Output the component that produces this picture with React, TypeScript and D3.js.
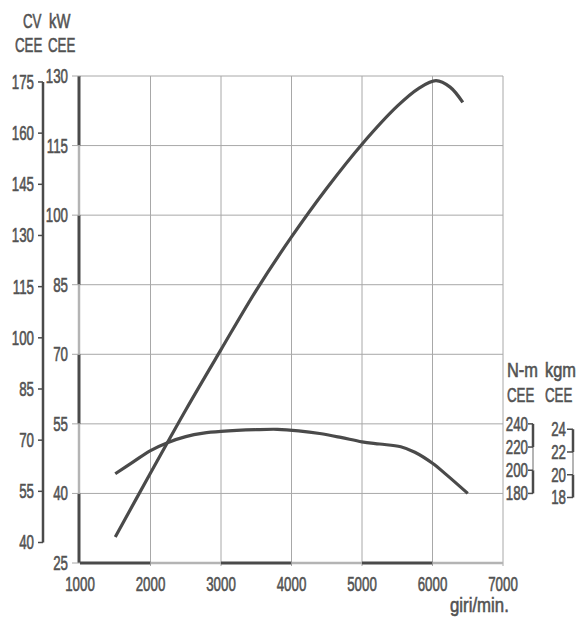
import React from "react";
import * as d3 from "d3";

// engine speed ticks (giri/min.)
const rpmTicks = [1000, 2000, 3000, 4000, 5000, 6000, 7000];
// left scales
const kwTicks = [25, 40, 55, 70, 85, 100, 115, 130];
const cvTicks = [40, 55, 70, 85, 100, 115, 130, 145, 160, 175];
// right scales
const nmTicks = [180, 200, 220, 240];
const kgmTicks = [18, 20, 22, 24];

// power curve (kW CEE)
const powerRpm = [1500, 2000, 2500, 3000, 3500, 4000, 4500, 5000, 5500, 5800, 6050, 6250, 6430];
const powerKw = [30.6, 44.4, 58, 71, 83.8, 95.3, 105.8, 115.3, 123.5, 127.3, 129, 127.6, 124.3];

// torque curve (N-m CEE)
const torqueRpm = [1500, 1750, 2000, 2250, 2500, 2750, 3000, 3500, 3800, 4100, 4400, 4700, 5000, 5250, 5550, 5750, 6000, 6200, 6500];
const torqueNm = [197, 207, 217, 224, 229, 232, 233.5, 235, 235.3, 234, 231.7, 228.3, 224.5, 222.6, 220.3, 215.5, 206, 196, 180];

const W = 577;
const H = 618;
const INK = "#4a4a4a";
const TXT = "#525252";
const GRID = "#a8a8a8";
const LIGHT = "#b4b4b4";
const FONT = "'Liberation Sans', Arial, sans-serif";

const x = d3.scaleLinear().domain([1000, 7000]).range([80, 503]);
const yKw = d3.scaleLinear().domain([25, 130]).range([563, 76]);
const yCv = d3.scaleLinear().domain([40, 175]).range([yKw(40 * 0.7355), yKw(175 * 0.7355)]);
const yNm = d3.scaleLinear().domain([180, 240]).range([yKw(40), yKw(55)]);
const yKgm = d3.scaleLinear().domain([18, 24]).range([yNm(18 * 9.80665), yNm(24 * 9.80665)]);

// narrow, tall lettering like the original print
const Label = ({ x, y, anchor = "start", sx = 0.65, children }: any) => (
  <text
    transform={`translate(${x},${y}) scale(${sx},1)`}
    textAnchor={anchor}
    fill={TXT}
    stroke={TXT}
    strokeWidth={0.6}
    fontSize={20.5}
    fontFamily={FONT}
  >
    {children}
  </text>
);

// ruler-like axis: alternating dark / light segments between ticks
const rulerSegments = (ticks: number[], scale: (v: number) => number) =>
  ticks.slice(0, -1).map((t, i) => ({ a: scale(t), b: scale(ticks[i + 1]), dark: i % 2 === 0 }));

const App = () => {
  const powerLine = d3
    .line<number>()
    .x((d, i) => x(powerRpm[i]))
    .y((d) => yKw(d))
    .curve(d3.curveCatmullRom);
  const torqueLine = d3
    .line<number>()
    .x((d, i) => x(torqueRpm[i]))
    .y((d) => yNm(d))
    .curve(d3.curveCatmullRom);

  const x0 = x(1000);
  const x1 = x(7000);
  const yTop = yKw(130);
  const yBot = yKw(25);
  const cvX = 43;
  const nmX = 533;
  const kgmX = 573;

  return (
    <svg width={W} height={H} style={{ position: "absolute", left: 0, top: 0, background: "#fff" }}>
      {/* grid */}
      {kwTicks.slice(1).map((v) => (
        <line key={"h" + v} x1={x0} x2={x1} y1={yKw(v)} y2={yKw(v)} stroke={GRID} strokeWidth={1} />
      ))}
      {rpmTicks.slice(1).map((v) => (
        <line key={"v" + v} x1={x(v)} x2={x(v)} y1={yTop} y2={yBot + 3} stroke={GRID} strokeWidth={1} />
      ))}

      {/* x axis ruler */}
      {rulerSegments(rpmTicks, x).map((s, i) => (
        <line key={"xs" + i} x1={s.a} x2={s.b} y1={yBot} y2={yBot} stroke={s.dark ? INK : LIGHT} strokeWidth={s.dark ? 3 : 2.5} />
      ))}
      {rpmTicks.map((v) => (
        <Label key={"xl" + v} x={x(v)} y={591} anchor="middle">{v}</Label>
      ))}
      <Label x={450} y={612} sx={0.82}>giri/min.</Label>

      {/* kW axis ruler */}
      {rulerSegments(kwTicks, yKw).map((s, i) => (
        <line key={"ks" + i} x1={x0 - 1} x2={x0 - 1} y1={s.a} y2={s.b} stroke={s.dark ? INK : LIGHT} strokeWidth={s.dark ? 3 : 2.5} />
      ))}
      {kwTicks.map((v) => (
        <g key={"kw" + v}>
          <line x1={x0 - 8} x2={x0} y1={yKw(v)} y2={yKw(v)} stroke={GRID} strokeWidth={1} />
          <Label x={68} y={yKw(v) + 7} anchor="end">{v}</Label>
        </g>
      ))}

      {/* CV axis */}
      <line x1={cvX} x2={cvX} y1={yCv(175)} y2={yCv(40)} stroke={INK} strokeWidth={2.5} />
      {cvTicks.map((v) => (
        <g key={"cv" + v}>
          <line x1={cvX - 5} x2={cvX} y1={yCv(v)} y2={yCv(v)} stroke={INK} strokeWidth={1.5} />
          <Label x={34} y={yCv(v) + 7} anchor="end">{v}</Label>
        </g>
      ))}

      {/* titles left */}
      <Label x={23} y={28}>CV</Label>
      <Label x={49} y={28} sx={0.72}>kW</Label>
      <Label x={15} y={52}>CEE</Label>
      <Label x={48} y={52}>CEE</Label>

      {/* N-m axis */}
      {rulerSegments(nmTicks, yNm).map((s, i) => (
        <line key={"ns" + i} x1={nmX} x2={nmX} y1={s.a} y2={s.b} stroke={s.dark ? INK : LIGHT} strokeWidth={s.dark ? 2.5 : 2} />
      ))}
      {nmTicks.map((v) => (
        <g key={"nm" + v}>
          <line x1={nmX - 5} x2={nmX} y1={yNm(v)} y2={yNm(v)} stroke={INK} strokeWidth={1.5} />
          <Label x={528} y={yNm(v) + 7} anchor="end">{v}</Label>
        </g>
      ))}

      {/* kgm axis */}
      {rulerSegments(kgmTicks, yKgm).map((s, i) => (
        <line key={"gs" + i} x1={kgmX} x2={kgmX} y1={s.a} y2={s.b} stroke={s.dark ? INK : LIGHT} strokeWidth={s.dark ? 2.5 : 2} />
      ))}
      {kgmTicks.map((v) => (
        <g key={"kg" + v}>
          <line x1={kgmX - 6} x2={kgmX} y1={yKgm(v)} y2={yKgm(v)} stroke={INK} strokeWidth={1.5} />
          <Label x={566} y={yKgm(v) + 7} anchor="end">{v}</Label>
        </g>
      ))}

      {/* titles right */}
      <Label x={507} y={377} sx={0.8}>N-m</Label>
      <Label x={545} y={377} sx={0.8}>kgm</Label>
      <Label x={507} y={402}>CEE</Label>
      <Label x={545} y={402}>CEE</Label>

      {/* curves */}
      <path d={powerLine(powerKw) || ""} fill="none" stroke={INK} strokeWidth={3.2} />
      <path d={torqueLine(torqueNm) || ""} fill="none" stroke={INK} strokeWidth={3.2} />
    </svg>
  );
};

export default App;
